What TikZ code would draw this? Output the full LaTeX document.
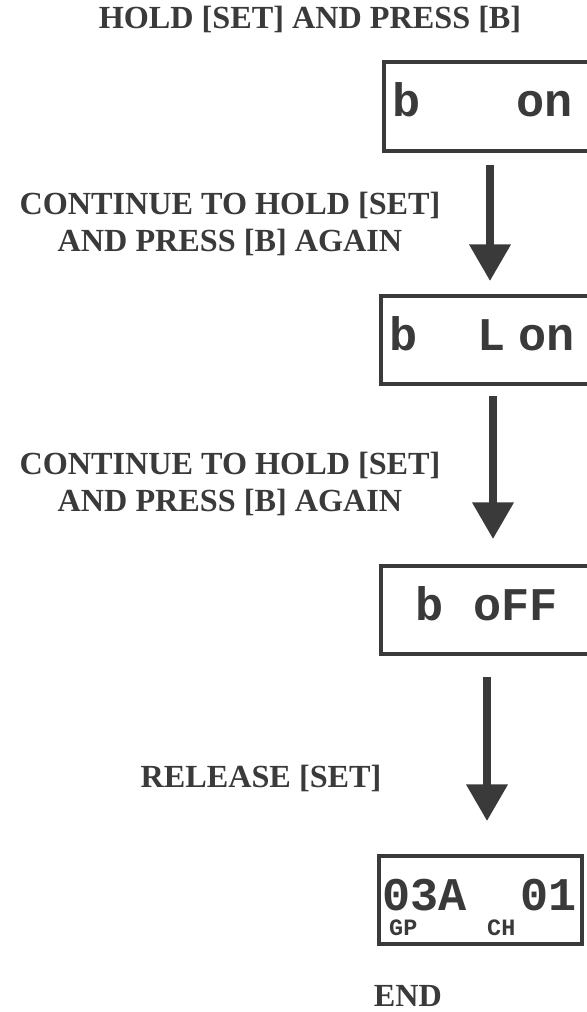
\documentclass[tikz,border=0pt]{standalone}
\usepackage{fontspec}
\setmainfont{Liberation Serif}
\newfontfamily\lcdfont{Liberation Mono}
\usetikzlibrary{arrows.meta, positioning}
\definecolor{inkgray}{RGB}{58, 58, 58}
\tikzset{
    step label/.style={
        font=\fontsize{27.5pt}{31.6pt}\selectfont\bfseries,
        text=inkgray,
        align=center,
        inner sep=0pt
    },
    lcd box/.style={
        rectangle,
        draw=inkgray,
        line width=1.2mm,
        minimum height=26.4mm,
        inner xsep=2.4mm,
        inner ysep=0pt,
        text height=6.3mm,
        text depth=0pt,
        align=left,
        font=\lcdfont\bfseries\fontsize{40pt}{44pt}\selectfont,
        text=inkgray
    },
    lcd text/.style={
        inner sep=0pt,
        text depth=0pt,
        font=\lcdfont\bfseries\fontsize{40pt}{44pt}\selectfont,
        text=inkgray
    },
    lcd small/.style={
        lcd text,
        text height=4.9mm,
        font=\lcdfont\bfseries\fontsize{20pt}{24pt}\selectfont
    },
    flow arrow/.style={
        -{Triangle[width=12mm, length=11mm]},
        line width=2.2mm,
        draw=inkgray
    }
}
\begin{document}
\begin{tikzpicture}[x=0.3mm, y=-0.3mm]
\useasboundingbox (0,0) rectangle (586,1012);

% Title
\node[step label, anchor=base] (hold) at (310, 29) {HOLD [SET] AND PRESS [B]};

% === DISPLAYS ===
\node[lcd box, minimum width=63.6mm, text width=58.8mm] (bon) at (490, 106.5) {b\hspace{28.8mm}on};
\node[lcd box, minimum width=67.2mm, text width=62.4mm] (blon) at (493, 340) {b\hspace{18mm}L\hspace{4mm}on};
\node[lcd box, minimum width=63.6mm, text width=58.8mm] (boff) at (487, 610) {\hspace*{7.8mm}b\hspace{9mm}oFF};
\node[lcd box, minimum width=60.9mm] (gpch) at (480.5, 900) {};
\node[lcd text, anchor=base west] (grpnum) at (382, 910) {03A\hspace{16.2mm}01};
\node[lcd small, anchor=base west] (gp) at (389, 935) {GP};
\node[lcd small, anchor=base west] (ch) at (487, 935) {CH};

% === STEPS ===
\node[step label] (again1) at (230, 224) {CONTINUE TO HOLD [SET]\\AND PRESS [B] AGAIN};
\node[step label] (again2) at (230, 484) {CONTINUE TO HOLD [SET]\\AND PRESS [B] AGAIN};
\node[step label, anchor=base] (release) at (261, 787) {RELEASE [SET]};
\node[step label, anchor=base] (finish) at (408, 1006) {END};

% === ARROWS ===
\draw[flow arrow, shorten <=3.6mm, shorten >=3.9mm] (bon.south) -- (bon.south |- blon.north);
\draw[flow arrow, shorten <=3mm, shorten >=7.5mm] (blon.south) -- (blon.south |- boff.north);
\draw[flow arrow, shorten <=6.3mm, shorten >=9.9mm] (boff.south) -- (boff.south |- gpch.north);

\end{tikzpicture}
\end{document}
